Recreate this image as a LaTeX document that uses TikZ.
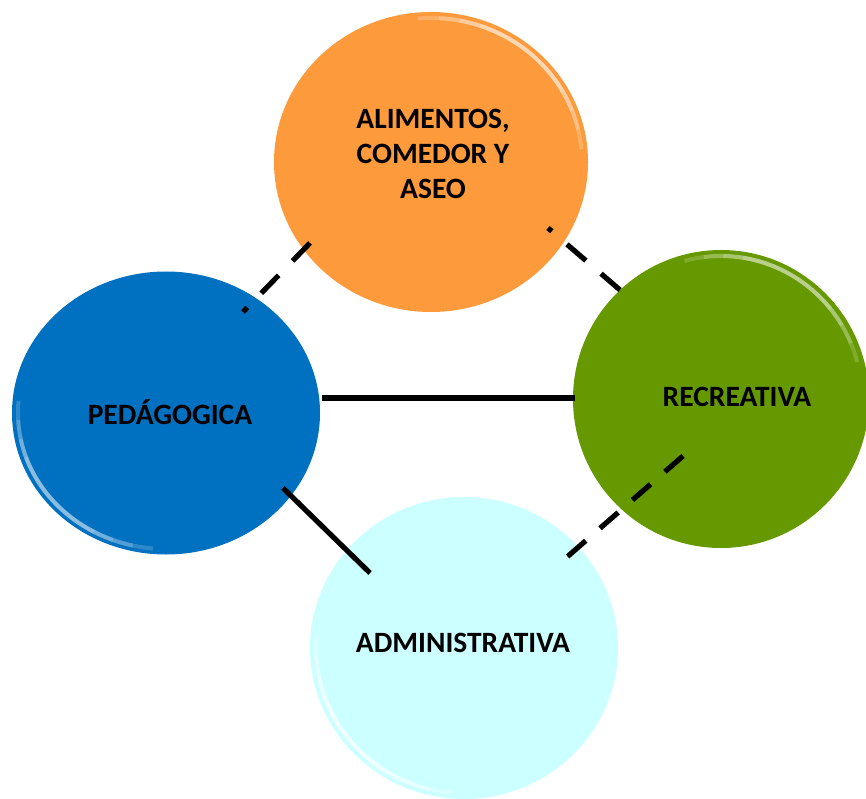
\documentclass[tikz,border=0pt]{standalone}
\usepackage{fontspec}
\setmainfont{Carlito}
\usetikzlibrary{shapes.geometric}
\definecolor{corange}{HTML}{FD9A3B}
\definecolor{cblue}{HTML}{0070C0}
\definecolor{cgreen}{HTML}{669900}
\definecolor{ccyan}{HTML}{CCFFFF}
\tikzset{
  bubble/.style={ellipse, draw=none, inner sep=0pt},
  lbl/.style={font=\fontsize{29.5}{35}\selectfont\bfseries, align=center, text=black},
  link/.style={line width=5.2pt, black, line cap=butt},
  dlink/.style={link, dash pattern=on 25pt off 20pt},
  glow/.style={white, line width=#1, line cap=butt},
}
\newcommand{\rim}[6]{% center, rx, ry, start, end, opacity
  \foreach \k in {0,8,16,24}{
    \draw[glow=4pt, opacity=#6*0.3] ([shift={(#1)}] #4+\k:#2 and #3) arc[start angle=#4+\k, end angle=#5-\k, x radius=#2, y radius=#3];
  }
}
\begin{document}
\begin{tikzpicture}[x=1pt, y=-1pt]
\useasboundingbox (0,0) rectangle (866,799);
% circles
\node[bubble, fill=corange, minimum width=314pt, minimum height=300pt] (ali) at (431,162) {};
\node[bubble, fill=cblue, minimum width=308pt, minimum height=283pt] (ped) at (166,413) {};
\node[bubble, fill=cgreen, minimum width=296pt, minimum height=298pt] (rec) at (721,399) {};
\node[bubble, fill=ccyan, minimum width=308pt, minimum height=302pt] (adm) at (464,648) {};
% rim highlights
\rim{431,162}{151}{144}{-95}{-5}{0.7}
\rim{721,399}{141}{143}{-105}{-15}{0.6}
\rim{166,413}{148}{136}{95}{185}{0.6}
\rim{464,648}{148}{145}{95}{185}{0.9}
% connector end points
\coordinate (p1) at (310,243);
\coordinate (p2) at (243,312);
\coordinate (p3) at (620,290);
\coordinate (p4) at (548,228);
\coordinate (p5) at (322,398);
\coordinate (p6) at (575,398);
\coordinate (p7) at (283,488);
\coordinate (p8) at (370,573);
\coordinate (p9) at (683,456);
\coordinate (p10) at (567,557);
% connectors
\draw[dlink] (p1) -- (p2);
\draw[dlink] (p3) -- (p4);
\draw[link] (p5) -- (p6);
\draw[link] (p7) -- (p8);
\draw[link, dash pattern=on 24pt off 19pt] (p9) -- (p10);
% labels
\node[lbl] (tali) at (433,154) {ALIMENTOS,\\COMEDOR Y\\ASEO};
\node[lbl] (tped) at (170,412) {PEDÁGOGICA};
\node[lbl] (trec) at (737,397) {RECREATIVA};
\node[lbl] (tadm) at (463,643) {ADMINISTRATIVA};
\end{tikzpicture}
\end{document}
